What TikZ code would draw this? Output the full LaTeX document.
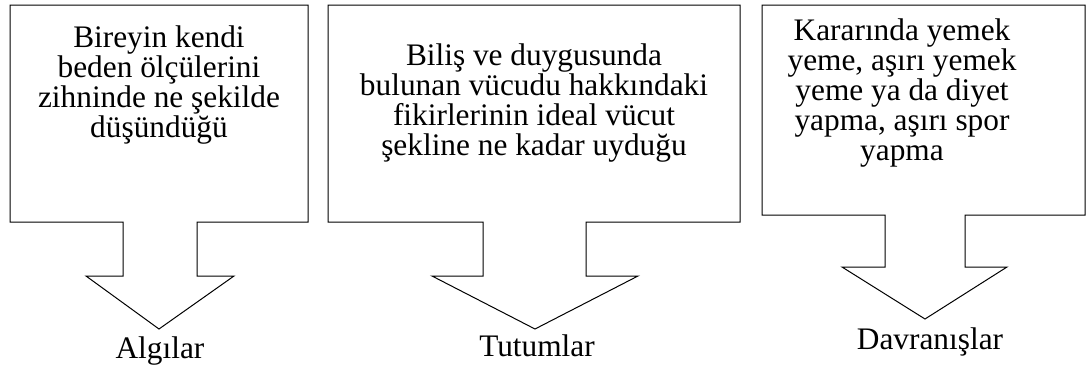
\documentclass[tikz,border=0pt]{standalone}
\usepackage{fontspec}
\setmainfont{Liberation Serif}
\tikzset{every picture/.style={line width=0.75pt}}
\tikzset{boxtext/.style={align=center,anchor=north,inner sep=0pt,font=\fontsize{23.5}{22.5}\selectfont}}

\begin{document}
\begin{tikzpicture}[x=0.75pt,y=0.75pt,yscale=-1,xscale=1]
%set diagram size to the reference
\useasboundingbox (0,0) rectangle (1086,371);

%Shape: Callout Down Arrow [id:algi]
\draw   (10,5) -- (308,5) -- (308,222) -- (197,222) -- (197,276) -- (234,276) -- (159,329) -- (86,276) -- (123,276) -- (123,222) -- (10,222) -- cycle ;
%Shape: Callout Down Arrow [id:tutum]
\draw   (328,5) -- (740,5) -- (740,222) -- (586,222) -- (586,276) -- (638,276) -- (535,329) -- (432,276) -- (483,276) -- (483,222) -- (328,222) -- cycle ;
%Shape: Callout Down Arrow [id:davranis]
\draw   (762,5) -- (1085,5) -- (1085,215) -- (965,215) -- (965,267) -- (1007,267) -- (925,319) -- (842,267) -- (885,267) -- (885,215) -- (762,215) -- cycle ;

% Text Node
\draw (159,25) node [boxtext] (algimetin) {Bireyin kendi\\beden ölçülerini\\zihninde ne şekilde\\düşündüğü};
% Text Node
\draw (534,43) node [boxtext] (tutummetin) {Biliş ve duygusunda\\bulunan vücudu hakkındaki\\fikirlerinin ideal vücut\\şekline ne kadar uyduğu};
% Text Node
\draw (902,18) node [boxtext] (davranismetin) {Kararında yemek\\yeme, aşırı yemek\\yeme ya da diyet\\yapma, aşırı spor\\yapma};
% Text Node
\draw (160,336) node [boxtext] (algilar) {Algılar};
% Text Node
\draw (537,334) node [boxtext] (tutumlar) {Tutumlar};
% Text Node
\draw (930,327) node [boxtext] (davranislar) {Davranışlar};

\end{tikzpicture}
\end{document}
